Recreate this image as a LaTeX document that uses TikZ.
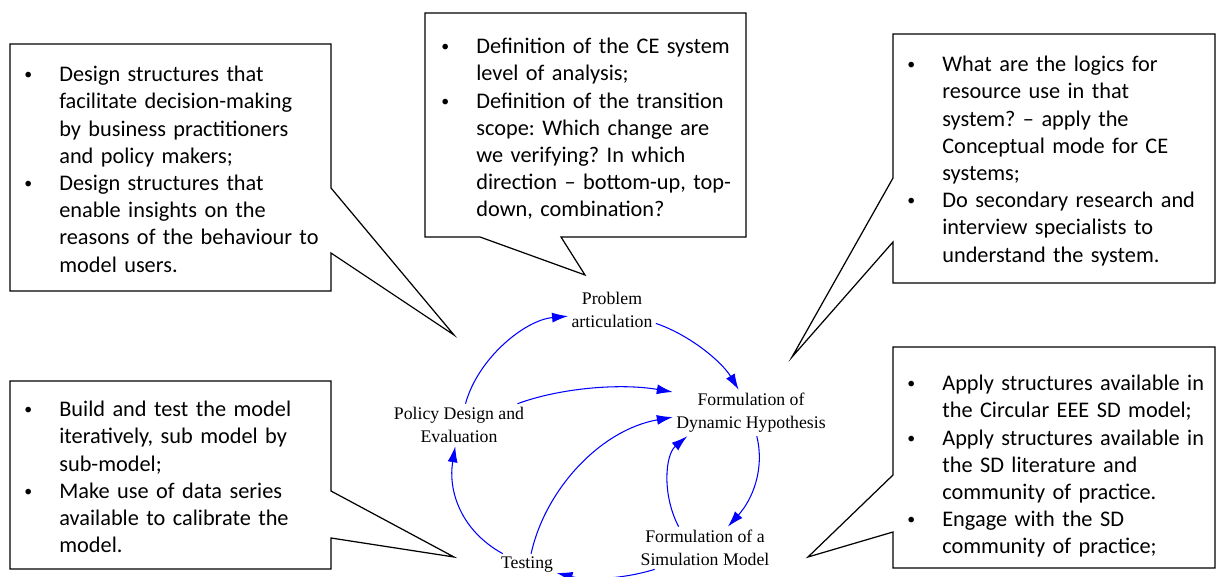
\documentclass[tikz,border=0pt]{standalone}
\usepackage{fontspec}
\usepackage{tikz}
\usetikzlibrary{arrows.meta}
\newfontfamily\calfont{Carlito}
\newfontfamily\tmsfont{Liberation Serif}
\newlength\bulind
\setlength\bulind{0.76cm}
\newcommand{\bitem}{\par\noindent\hangindent=\bulind\hangafter=1%
  \hbox to\bulind{\hspace{0.06cm}\raisebox{0.08em}{\fontsize{9}{9}\selectfont\textbullet}\hfil}}

\begin{document}
\begin{tikzpicture}[x=0.02cm,y=-0.02cm,
  c/.style={draw,line width=0.7pt,line join=miter},
  t/.style={anchor=north west,inner sep=0pt,text width=8cm,
            font=\calfont\fontsize{12.7}{15.5}\selectfont\frenchspacing},
  v/.style={align=center,inner sep=2pt,outer sep=0pt,
            font=\tmsfont\fontsize{10.1}{13.1}\selectfont},
  a/.style={-{Latex[length=0.32cm,width=0.2cm]},draw=blue,line width=0.6pt}
]
\useasboundingbox (0,0) rectangle (1217,577);

\draw[c] (10,44)--(331,44)--(331,188)--(454,335)--(331,253)--(331,291)--(10,291)--cycle;
\draw[c] (425,13)--(746,13)--(746,237)--(561,237)--(585,275)--(480,237)--(425,237)--cycle;
\draw[c] (893,34)--(1215,34)--(1215,283)--(893,283)--(893,242)--(792,357)--(893,178)--cycle;
\draw[c] (10,381)--(331,381)--(331,491)--(454,557)--(331,538)--(331,569)--(10,569)--cycle;
\draw[c] (893,347)--(1215,347)--(1215,568)--(893,568)--(893,532)--(808,557)--(893,475)--cycle;

\node[t] (design) at (21,54) {\bitem Design structures that\newline facilitate decision-making\newline
  by business practitioners\newline and policy makers;
  \bitem Design structures that\newline enable insights on the\newline
  reasons of the behaviour to\newline model users.\par};
\node[t] (scope) at (438,26) {\bitem Definition of the CE system\newline level of analysis;
  \bitem Definition of the transition\newline scope: Which change are\newline
  we verifying? In which\newline direction – bottom-up, top-\newline down, combination?\par};
\node[t] (logic) at (904,44) {\bitem What are the logics for\newline resource use in that\newline
  system? – apply the\newline Conceptual mode for CE\newline systems;
  \bitem Do secondary research and\newline interview specialists to\newline
  understand the system.\par};
\node[t] (build) at (21,389) {\bitem Build and test the model\newline iteratively, sub model by\newline
  sub-model;
  \bitem Make use of data series\newline available to calibrate the\newline model.\par};
\node[t] (apply) at (904,363) {\bitem Apply structures available in\newline the Circular EEE SD model;
  \bitem Apply structures available in\newline the SD literature and\newline community of practice.
  \bitem Engage with the SD\newline community of practice;\par};

\node[v] (prob) at (612,310) {Problem\\articulation};
\node[v] (fdh)  at (751,413) {Formulation of\\Dynamic Hypothesis};
\node[v] (pol)  at (459,425) {Policy Design and\\Evaluation};
\node[v] (fsm)  at (705,548) {Formulation of a\\Simulation Model};
\node[v] (test) at (527,565) {Testing};

\draw[a] (pol.73) .. controls (478,358) and (525,320) .. (prob.188);
\draw[a] (prob.-17) .. controls (690,335) and (722,362) .. (fdh.118);
\draw[a] (pol.20) .. controls (560,388) and (620,383) .. (fdh.165);
\draw[a] (test.70) .. controls (545,490) and (600,430) .. (fdh.183);
\draw[a] (fdh.-76) .. controls (765,470) and (752,500) .. (fsm.43);
\draw[a] (fsm.141) .. controls (662,495) and (665,455) .. (fdh.200);
\draw[a] (fsm.203) .. controls (620,580) and (585,580) .. (test.-15);
\draw[a] (test.155) .. controls (460,530) and (448,490) .. (pol.-100);
\end{tikzpicture}
\end{document}
